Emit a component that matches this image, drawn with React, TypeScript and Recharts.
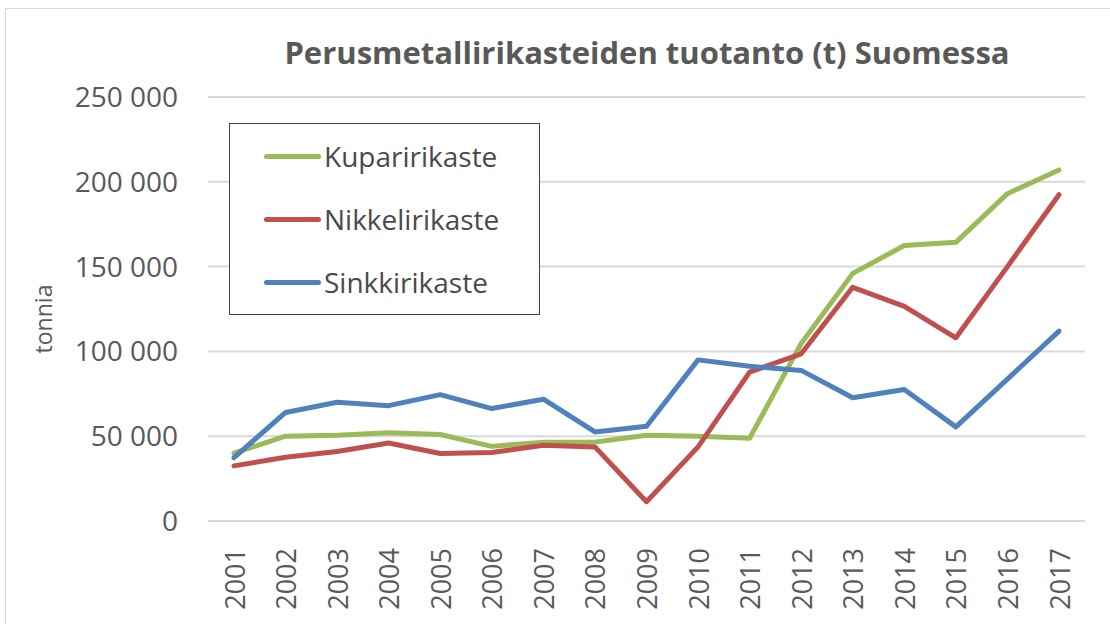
import React from 'react';
import { LineChart, Line, XAxis, YAxis, CartesianGrid } from 'recharts';

const years = ['2001','2002','2003','2004','2005','2006','2007','2008','2009','2010','2011','2012','2013','2014','2015','2016','2017'];
const kupari = [40000, 50000, 50500, 52000, 51000, 44000, 46500, 46500, 50500, 50000, 48800, 104700, 146000, 162400, 164300, 193000, 207000];
const nikkeli = [32500, 37600, 41000, 46000, 39800, 40400, 44700, 43700, 11400, 43700, 87800, 98600, 137800, 126500, 108000, 150000, 192400];
const sinkki = [37300, 64000, 70000, 68000, 74500, 66300, 71800, 52500, 55900, 95000, 91200, 88800, 72700, 77500, 55500, 83700, 112000];
const yTicks = [0, 50000, 100000, 150000, 200000, 250000];

const seriesInfo = [
  { key: 'kupari', name: 'Kuparirikaste', color: '#9BBB59' },
  { key: 'nikkeli', name: 'Nikkelirikaste', color: '#C0504D' },
  { key: 'sinkki', name: 'Sinkkirikaste', color: '#4F81BD' },
];

const data = years.map((y, i) => ({ year: y, kupari: kupari[i], nikkeli: nikkeli[i], sinkki: sinkki[i] }));

const FONT = "'Open Sans', 'DejaVu Sans', sans-serif";
const TEXT = '#595959';

const fmt = (v: number) => {
  if (v === 0) return '0';
  const s = String(v);
  return s.slice(0, s.length - 3) + ' ' + s.slice(-3);
};

const XTick = (props: any) => {
  const { x, y, payload } = props;
  return (
    <text
      x={0}
      y={0}
      transform={`translate(${x},${y + 19}) rotate(-90)`}
      textAnchor="end"
      dominantBaseline="central"
      fill={TEXT}
      fontSize={27}
      fontFamily={FONT}
    >
      {payload.value}
    </text>
  );
};

const LegendBox = () => (
  <div
    style={{
      position: 'absolute',
      left: 229,
      top: 123,
      width: 311,
      height: 192,
      border: '1.5px solid #404040',
      background: '#fff',
      boxSizing: 'border-box',
      fontFamily: FONT,
    }}
  >
    {seriesInfo.map((s, i) => (
      <div key={s.key} style={{ position: 'absolute', left: 34, top: 14 + i * 63, height: 36, display: 'flex', alignItems: 'center' }}>
        <div style={{ width: 57, height: 5, background: s.color, borderRadius: 3 }} />
        <span style={{ marginLeft: 3, fontSize: 28, color: '#4a4a4a', lineHeight: '36px' }}>{s.name}</span>
      </div>
    ))}
  </div>
);

export default function App() {
  return (
    <div style={{ position: 'absolute', left: 0, top: 0, width: 1110, height: 624, background: '#fff' }}>
      <div style={{ position: 'absolute', left: 5, top: 8, width: 1105, height: 616, borderTop: '1px solid #d9d9d9', borderLeft: '1px solid #d9d9d9', boxSizing: 'border-box' }} />
      <div
        style={{
          position: 'absolute',
          left: 0,
          width: 1110,
          top: 28,
          textAlign: 'center',
          paddingLeft: 184,
          boxSizing: 'border-box',
          fontFamily: FONT,
          fontWeight: 700,
          fontSize: 31,
          color: TEXT,
          lineHeight: '48px',
        }}
      >
        Perusmetallirikasteiden tuotanto (t) Suomessa
      </div>
      <div style={{ position: 'absolute', left: 0, top: 0 }}>
        <LineChart width={1110} height={624} data={data} margin={{ top: 97, right: 25, bottom: 0, left: 0 }}>
          <CartesianGrid vertical={false} stroke="#d9d9d9" strokeWidth={2} />
          <XAxis dataKey="year" axisLine={false} tickLine={false} height={103} interval={0} tick={<XTick />} padding={{ left: 26, right: 26 }} />
          <YAxis
            width={208}
            domain={[0, 250000]}
            ticks={yTicks}
            axisLine={false}
            tickLine={false}
            tickSize={0}
            tickMargin={30}
            tickFormatter={fmt}
            tick={{ fill: TEXT, fontSize: 28, fontFamily: FONT }}
            label={{ value: 'tonnia', angle: -90, position: 'insideLeft', offset: 44, dy: 10, style: { fill: TEXT, fontSize: 23, fontFamily: FONT, textAnchor: 'middle' } }}
          />
          {seriesInfo.map((s) => (
            <Line key={s.key} type="linear" dataKey={s.key} name={s.name} stroke={s.color} strokeWidth={5} dot={false} isAnimationActive={false} strokeLinejoin="round" strokeLinecap="round" />
          ))}
        </LineChart>
      </div>
      <LegendBox />
    </div>
  );
}
